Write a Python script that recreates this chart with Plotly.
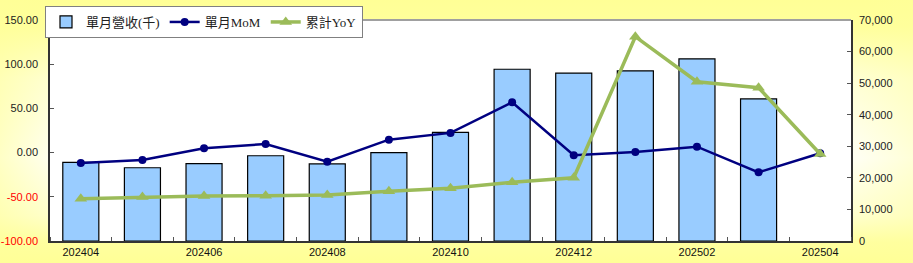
import base64
import plotly.graph_objects as go

months = ["202404", "202405", "202406", "202407", "202408", "202409", "202410",
          "202411", "202412", "202501", "202502", "202503", "202504"]
revenue = [24900, 23200, 24500, 27000, 24400, 28000, 34400,
           54400, 53200, 53900, 57700, 45000, None]
mom = [-11.8, -8.4, 4.8, 9.7, -10.3, 14.6, 22.3, 56.9, -2.9, 0.7, 6.7, -22.3, -0.8]
yoy = [-52.1, -50.2, -49.1, -48.7, -48.0, -43.8, -40.4, -33.6, -28.4, 131.1, 80.2, 73.4, -1.6]
left_ticks = [-100, -50, 0, 50, 100, 150]
right_ticks = [0, 10000, 20000, 30000, 40000, 50000, 60000, 70000]

W, H = 913, 263
L, R, T, B = 50, 62, 20, 22
PW, PH = W - L - R, H - T - B

xs = list(range(len(months)))

svg = f'''<svg xmlns="http://www.w3.org/2000/svg" width="{W}" height="{H}" viewBox="0 0 {W} {H}" preserveAspectRatio="none">
<defs><linearGradient id="g" x1="0" y1="0" x2="0" y2="1">
<stop offset="0" stop-color="#FFFF96"/>
<stop offset="0.10" stop-color="#FFFF9C"/>
<stop offset="0.30" stop-color="#FFFFD2"/>
<stop offset="0.60" stop-color="#FFFFF2"/>
<stop offset="0.82" stop-color="#FFFFCC"/>
<stop offset="0.92" stop-color="#FFFFA0"/>
<stop offset="1" stop-color="#FFFF96"/>
</linearGradient>
<linearGradient id="h" x1="0" y1="0" x2="1" y2="0">
<stop offset="0" stop-color="#FFFF99" stop-opacity="0.5"/>
<stop offset="0.06" stop-color="#FFFF99" stop-opacity="0"/>
<stop offset="0.94" stop-color="#FFFF99" stop-opacity="0"/>
<stop offset="1" stop-color="#FFFF99" stop-opacity="0.3"/>
</linearGradient></defs>
<rect x="0" y="0" width="{W}" height="{H}" fill="url(#g)"/>
<rect x="0" y="0" width="{W}" height="{H}" fill="url(#h)"/>
</svg>'''
src = "data:image/svg+xml;base64," + base64.b64encode(svg.encode()).decode()

fig = go.Figure()
fig.add_trace(go.Bar(
    x=xs, y=revenue, name="單月營收(千)", yaxis="y",
    marker=dict(color="#99CCFF", line=dict(color="#000000", width=1.2)),
))
fig.add_trace(go.Scatter(
    x=xs, y=mom, name="單月MoM", yaxis="y2", mode="lines+markers",
    line=dict(color="#000080", width=2.5),
    marker=dict(symbol="circle", size=8, color="#000080"),
))
fig.add_trace(go.Scatter(
    x=xs, y=yoy, name="累計YoY", yaxis="y2", mode="lines+markers",
    line=dict(color="#9BBB59", width=3.5),
    marker=dict(symbol="triangle-up", size=11, color="#9BBB59"),
))

left_text = [f'<span style="color:#FF0000">{v:.2f}</span>' if v < 0 else f"{v:.2f}" for v in left_ticks]

fig.update_layout(
    width=W, height=H,
    margin=dict(l=L, r=R, t=T, b=B, pad=0, autoexpand=False),
    paper_bgcolor="#FFFFCC",
    plot_bgcolor="rgba(0,0,0,0)",
    bargap=0.415,
    showlegend=True,
    font=dict(family="Liberation Sans, Arial", size=11, color="#222222"),
    xaxis=dict(
        range=[-0.5, len(months) - 0.5],
        tickvals=xs[::2], ticktext=months[::2],
        ticks="", showgrid=False, zeroline=False, automargin=False,
        showline=True, linecolor="#333333", linewidth=1.5,
        tickfont=dict(size=11, color="#111111"),
        minor=dict(tick0=-0.5, dtick=1, ticks="inside", ticklen=4,
                   tickcolor="#555555", showgrid=False),
    ),
    yaxis=dict(
        side="right", range=[0, 70000], tickvals=right_ticks, tickformat=",",
        ticks="inside", ticklen=4, tickcolor="#555555",
        showgrid=False, zeroline=False, automargin=False,
        showline=True, linecolor="#333333", linewidth=1.5,
        tickfont=dict(size=11, color="#222222"),
        ticklabelstandoff=4,
    ),
    yaxis2=dict(
        side="left", overlaying="y", range=[-100, 150],
        tickvals=left_ticks, ticktext=left_text,
        ticks="inside", ticklen=4, tickcolor="#555555",
        showgrid=False, zeroline=False, automargin=False,
        showline=True, linecolor="#333333", linewidth=1.5,
        tickfont=dict(size=11, color="#222222"),
        ticklabelstandoff=8,
    ),
    legend=dict(
        orientation="h", x=(45 - L) / PW, y=(H - B - 6) / PH,
        xanchor="left", yanchor="top",
        bgcolor="#FFFFFF", bordercolor="#808080", borderwidth=1,
        font=dict(family="Liberation Serif, Noto Sans CJK TC", size=13, color="#222222"),
        traceorder="normal", itemwidth=30,
    ),
    images=[dict(
        source=src, xref="paper", yref="paper",
        x=-L / PW, y=(PH + T) / PH, sizex=W / PW, sizey=H / PH,
        xanchor="left", yanchor="top", sizing="stretch", layer="below",
    )],
    shapes=[
        dict(type="rect", xref="paper", yref="paper", x0=0, x1=1, y0=0, y1=1,
             fillcolor="#FFFFFF", line=dict(width=0), layer="below"),
        dict(type="line", xref="paper", yref="paper", x0=0, x1=1, y0=1, y1=1,
             line=dict(color="#A0A0A0", width=2), layer="below"),
    ],
)

fig.write_html("out.html")
